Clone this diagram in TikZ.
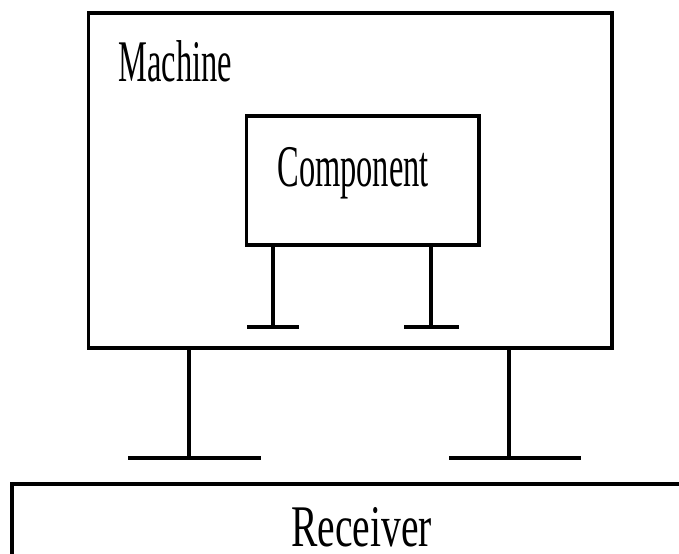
\documentclass[tikz,border=0pt]{standalone}
\usepackage{fontspec}
\usepackage{tikz}
\usetikzlibrary{positioning, calc}
\newfontfamily\narrowserif{Liberation Serif}[FakeStretch=0.55]
\newfontfamily\wideserif{Liberation Serif}[FakeStretch=0.67]

\begin{document}
\begin{tikzpicture}[
  x=0.02cm, y=-0.02cm,
  box/.style={draw, line width=2.1pt, inner sep=0pt},
  leg/.style={line width=2.1pt},
  lbl/.style={font=\narrowserif\fontsize{33.6}{40}\selectfont, inner sep=0pt, anchor=base west},
]
  \useasboundingbox (0,0) rectangle (679,554);
  \clip (0,0) rectangle (679,554);

  \node[box, minimum width=10.47cm, minimum height=6.7cm]  (machine) at (350.25,180.5) {};
  \node[box, minimum width=4.65cm, minimum height=2.58cm]  (comp)    at (362.75,180.5) {};
  \node[box, minimum width=14.16cm, minimum height=3.12cm] (recv)    at (366,562) {};

  \node[lbl] (mlabel) at (118,82)  {Machine};
  \node[lbl] (clabel) at (277,186) {Component};
  \node[lbl, font=\wideserif\fontsize{33.6}{40}\selectfont] (rlabel) at (291,546) {Receiver};

  % component legs
  \coordinate (cl) at (273,327);
  \coordinate (cr) at (431,327);
  \draw[leg] (comp.south -| cl) -- (cl);
  \draw[leg] (comp.south -| cr) -- (cr);
  \draw[leg] (247,327) -- (299,327);
  \draw[leg] (404,327) -- (459,327);

  % machine legs
  \coordinate (ml) at (189,458);
  \coordinate (mr) at (509,458);
  \draw[leg] (machine.south -| ml) -- (ml);
  \draw[leg] (machine.south -| mr) -- (mr);
  \draw[leg] (128,458) -- (261,458);
  \draw[leg] (449,458) -- (581,458);
\end{tikzpicture}
\end{document}
